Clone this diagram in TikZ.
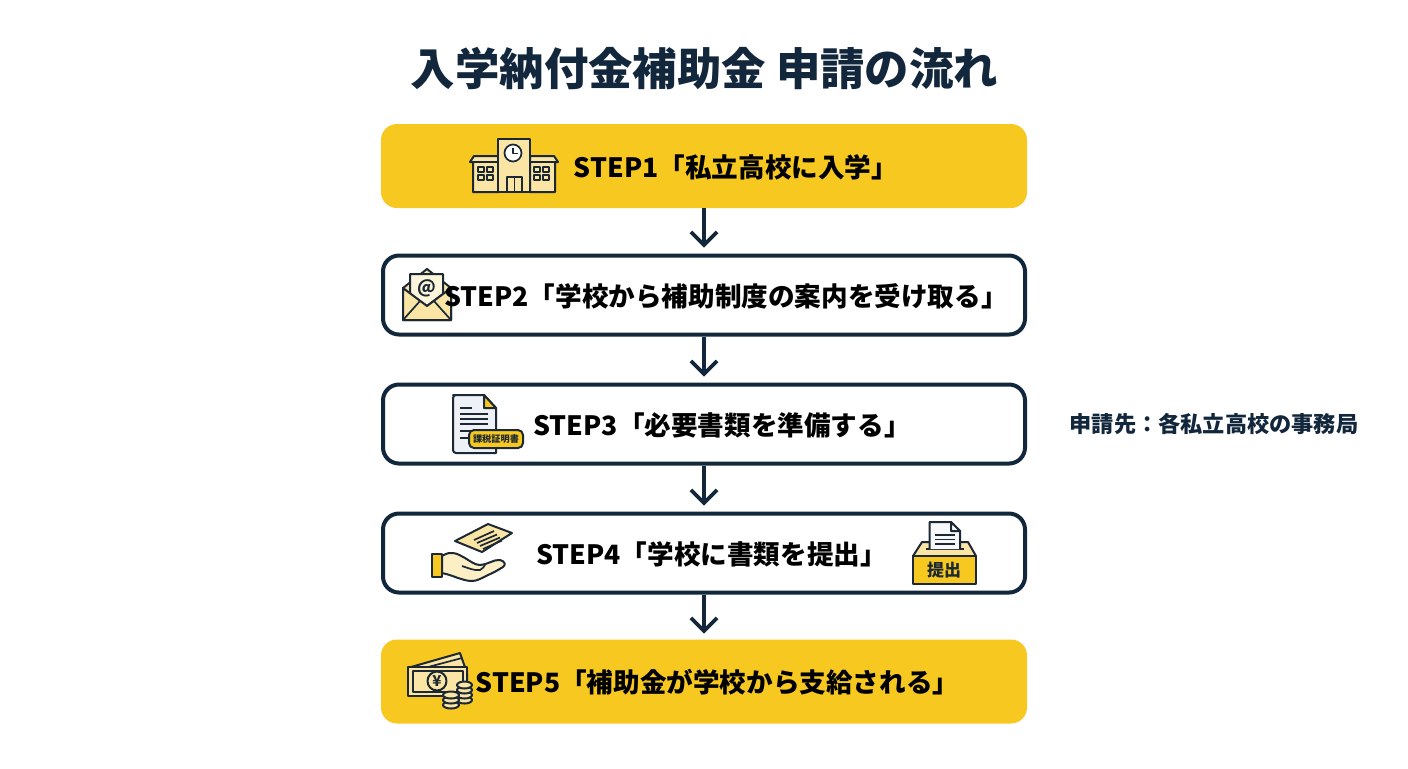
\documentclass[tikz,border=0pt]{standalone}
\usepackage{fontspec}
\setmainfont{Noto Sans CJK JP}
\usetikzlibrary{arrows.meta}
\definecolor{box_yellow}{RGB}{246,200,32}
\definecolor{line_navy}{RGB}{18,38,60}
\definecolor{icon_cream}{RGB}{250,229,165}
\definecolor{icon_gray}{RGB}{238,241,246}
\definecolor{icon_line}{RGB}{28,40,52}

\begin{document}
\begin{tikzpicture}[x=0.5pt,y=-0.5pt,line join=round]
    \tikzstyle{yellowbox}=[fill=box_yellow, rounded corners=8pt, minimum width=323pt, minimum height=42pt, outer sep=0pt]
    \tikzstyle{whitebox}=[draw=line_navy, line width=2pt, fill=white, rounded corners=8pt, minimum width=321pt, minimum height=39.5pt, outer sep=1pt]
    \tikzstyle{steptext}=[font=\bfseries\fontsize{13.3}{16}\selectfont, text=black, inner sep=0pt]
    \tikzstyle{flow}=[draw=line_navy, line width=1.8pt, -{Straight Barb[length=6.5pt,width=13pt,line width=1.8pt]}, shorten >=3pt]
    \tikzstyle{icon}=[draw=icon_line, line width=1pt, fill=icon_cream]
    \tikzstyle{thin}=[draw=icon_line, line width=0.85pt]

    \useasboundingbox (0,0) rectangle (1408,768);
    \fill[white] (0,0) rectangle (1408,768);

    \node[font=\bfseries\fontsize{22.2}{26}\selectfont, text=line_navy, inner sep=0pt] (title) at (704.5,69) {入学納付金補助金 申請の流れ};

    \node[yellowbox] (step1) at (704,166) {};
    \node[whitebox]  (step2) at (704,295) {};
    \node[whitebox]  (step3) at (704,424) {};
    \node[whitebox]  (step4) at (704,553) {};
    \node[yellowbox] (step5) at (704,681.5) {};

    \path
     (step1) edge[flow] (step2)
     (step2) edge[flow] (step3)
     (step3) edge[flow] (step4)
     (step4) edge[flow] (step5)
     ;

    % school
    \draw[icon] (470,162) -- (474,156) -- (498,156) -- (498,192) -- (473,192) -- (473,162) -- cycle;
    \draw[icon] (558,162) -- (554,156) -- (530,156) -- (530,192) -- (555,192) -- (555,162) -- cycle;
    \draw[thin] (470,162) -- (498,162) (530,162) -- (558,162);
    \draw[icon] (498,139) rectangle (530,192);
    \draw[thin,fill=white] (513,153) circle[radius=8.5];
    \draw[thin] (513,147.5) -- (513,153.5) -- (518,153.5);
    \draw[thin] (507,177) rectangle (522,192) (514.5,177) -- (514.5,192);
    \foreach \wx in {478,487,534,543}
      \foreach \wy in {167,175}
        \draw[thin] (\wx,\wy) rectangle ++(6,5);

    % mail
    \draw[icon] (403,288) -- (427,269) -- (451,288) -- (451,320) -- (403,320) -- cycle;
    \draw[icon,fill=white!60!icon_cream] (410,288) -- (410,274) -- (443,274) -- (443,288) -- (443,294) -- (427,306) -- (410,294) -- cycle;
    \node[font=\bfseries\fontsize{9}{10}\selectfont, text=icon_line, inner sep=0pt] (mail_at) at (427,288) {@};
    \draw[icon] (403,288) -- (427,306) -- (451,288) -- (451,320) -- (403,320) -- cycle;
    \draw[thin] (403,320) -- (420,301) (451,320) -- (434,301);

    % document
    \draw[icon,fill=icon_gray] (456,395) -- (484,395) -- (496,408) -- (496,453) -- (456,453) [rounded corners=1.5pt] -- (453,453) -- (453,395) -- cycle;
    \draw[icon,fill=box_yellow] (484,395) -- (496,408) -- (484,408) -- cycle;
    \draw[thin] (460,408) -- (472,408);
    \foreach \ly in {414,419,424,431,438}
      \draw[thin] (460,\ly) -- (488,\ly);
    \node[draw=icon_line, line width=1pt, fill=box_yellow, rounded corners=2.5pt, minimum width=27pt, minimum height=9pt, inner sep=0pt,
          font=\bfseries\fontsize{4.6}{5}\selectfont, text=icon_line] (badge) at (496,439) {課税証明書};

    % hand with paper
    \draw[icon] (455,541) -- (488,524) -- (512,533) -- (482,552) -- cycle;
    \draw[thin] (474,540) -- (494,531) (477,543) -- (497,534.5) (480,546) -- (500,537.5) (483,549) -- (502,540.5);
    \draw[icon,fill=white!35!icon_cream] (442,556) .. controls (447,553) and (450,552.5) .. (453,553)
      .. controls (458,553.5) and (461,556) .. (465,558)
      .. controls (470,561) and (475,565) .. (480,565)
      .. controls (487,565) and (494,559) .. (500,560)
      .. controls (505,561) and (506,565) .. (503,567)
      .. controls (498,570) and (493,573) .. (488,575)
      .. controls (482,578) and (477,581) .. (472,581)
      .. controls (466,581) and (462,579) .. (458,578)
      .. controls (453,576) and (447,574) .. (442,573) -- cycle;
    \draw[thin] (462,566) .. controls (468,568) and (475,571) .. (480,570) .. controls (482,569) and (484,567) .. (485,565);
    \draw[icon,fill=box_yellow] (432,554) rectangle (442,577);

    % ballot box
    \draw[icon] (913,556) -- (922,542) -- (968,542) -- (976,556) -- cycle;
    \draw[thin] (926,549) -- (964,549);
    \draw[icon,fill=white!50!icon_gray] (929.5,549) -- (929.5,522) -- (951,522) -- (960,531) -- (960,549);
    \draw[icon,fill=white] (951,522) -- (960,531) -- (951,531) -- cycle;
    \foreach \ly in {535,539.5,544}
      \draw[thin] (935,\ly) -- (955,\ly);
    \draw[icon,fill=box_yellow] (913,556) rectangle (976,584);
    \node[font=\bfseries\fontsize{8.5}{10}\selectfont, text=icon_line, inner sep=0pt] (box_label) at (944,570) {提出};

    % money
    \draw[icon] (411,667) -- (460,653) -- (467,673) -- (467,690) -- (411,690) -- cycle;
    \draw[thin] (428,667) -- (462,658);
    \draw[icon] (408,667) rectangle (467,696);
    \draw[thin] (413,671) rectangle (463,692);
    \draw[icon,fill=icon_cream] (437,681) circle[radius=9.5];
    \node[font=\bfseries\fontsize{7.5}{8}\selectfont, text=icon_line, inner sep=0pt] (yen) at (437,681) {¥};
    \foreach \cy in {700,695,690,685}
      \draw[icon] (464.5,\cy) ellipse[x radius=7.5,y radius=3.5];
    \foreach \cy in {705,700,695}
      \draw[icon] (451,\cy) ellipse[x radius=8,y radius=3.5];

    % step texts
    \node[steptext] (label1) at (736,167)  {STEP1「私立高校に入学」};
    \node[steptext] (label2) at (726,296)  {STEP2「学校から補助制度の案内を受け取る」};
    \node[steptext] (label3) at (722,425)  {STEP3「必要書類を準備する」};
    \node[steptext] (label4) at (711.5,554)  {STEP4「学校に書類を提出」};
    \node[steptext] (label5) at (717.5,682)  {STEP5「補助金が学校から支給される」};

    \node[font=\bfseries\fontsize{11.1}{13}\selectfont, text=line_navy, inner sep=0pt] (target) at (1214,424) {申請先：各私立高校の事務局};
  \end{tikzpicture}
\end{document}
